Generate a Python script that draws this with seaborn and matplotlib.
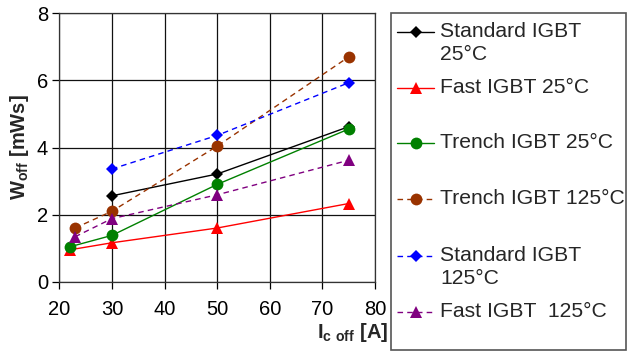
import matplotlib
matplotlib.use("Agg")
import matplotlib.pyplot as plt
import seaborn as sns
import pandas as pd
from matplotlib.lines import Line2D
from matplotlib.patches import Rectangle

# Turn-off energy vs. collector current for several IGBT types
std25_x = [30, 50, 75]
std25_y = [2.56, 3.21, 4.62]
fast25_x = [22, 30, 50, 75]
fast25_y = [0.95, 1.16, 1.60, 2.33]
trench25_x = [22, 30, 50, 75]
trench25_y = [1.04, 1.38, 2.90, 4.55]
trench125_x = [23, 30, 50, 75]
trench125_y = [1.60, 2.10, 4.04, 6.70]
std125_x = [30, 50, 75]
std125_y = [3.36, 4.36, 5.93]
fast125_x = [23, 30, 50, 75]
fast125_y = [1.34, 1.88, 2.59, 3.62]

labels = ["Standard IGBT\n25°C", "Fast IGBT 25°C", "Trench IGBT 25°C",
          "Trench IGBT 125°C", "Standard IGBT\n125°C", "Fast IGBT  125°C"]
xs = [std25_x, fast25_x, trench25_x, trench125_x, std125_x, fast125_x]
ys = [std25_y, fast25_y, trench25_y, trench125_y, std125_y, fast125_y]
colors = ["#000000", "#FF0000", "#008000", "#993300", "#0000FF", "#800080"]
markers = ["D", "^", "o", "o", "D", "^"]
msizes = [6, 9, 8.5, 8.5, 6, 9]
dashed = [False, False, False, True, True, True]

sns.set_theme(style="white")
plt.rcParams["font.family"] = ["Liberation Sans", "DejaVu Sans"]
plt.rcParams["mathtext.fontset"] = "custom"
plt.rcParams["mathtext.rm"] = "Liberation Sans"
plt.rcParams["mathtext.bf"] = "Liberation Sans:bold"

W, H = 627, 351
fig = plt.figure(figsize=(W / 100, H / 100), dpi=100)
fig.patch.set_facecolor("white")


def fx(px):
    return px / W


def fy(py):
    return 1 - py / H


ax = fig.add_axes([fx(59.3), fy(281.7), fx(375) - fx(59.3), fy(13.3) - fy(281.7)])

for lab, x, y, c, m, ms, d in zip(labels, xs, ys, colors, markers, msizes, dashed):
    df = pd.DataFrame({"x": x, "y": y})
    sns.lineplot(data=df, x="x", y="y", ax=ax, color=c, marker=m, markersize=ms,
                 markeredgewidth=0, linewidth=1.0,
                 linestyle=(0, (4, 3)) if d else "-", legend=False)

ax.set_xlim(20, 80)
ax.set_ylim(0, 8)
ax.set_xticks(range(20, 81, 10))
ax.set_yticks(range(0, 9, 2))
ax.grid(True, color="#111111", linewidth=0.9)
ax.set_axisbelow(True)
for s in ax.spines.values():
    s.set_color("#333333")
    s.set_linewidth(0.9)
ax.tick_params(axis="both", labelsize=14.5, colors="#000000", length=5,
               width=0.9, direction="out", pad=3, bottom=True, left=True)
ax.tick_params(axis="x", pad=8)
ax.set_xlabel("")
ax.set_ylabel(r"$\mathbf{W_{off}}$ [mWs]", fontsize=14.5, fontweight="bold", labelpad=4)
ax.text(fx(388), fy(338), r"$\mathbf{I_{c\ off}}$ [A]", transform=fig.transFigure,
        ha="right", va="baseline", fontsize=14.5, fontweight="bold")

# legend box on the right
fig.add_artist(Rectangle((fx(391), fy(350)), fx(626) - fx(391), fy(13) - fy(350),
                         transform=fig.transFigure, facecolor="white",
                         edgecolor="#555555", linewidth=1.2))
entry_y = [32, 88, 143, 199, 256, 312]
for lab, yy, c, m, ms, d in zip(labels, entry_y, colors, markers, msizes, dashed):
    fig.add_artist(Line2D([fx(397), fx(434)], [fy(yy), fy(yy)], transform=fig.transFigure,
                          color=c, linewidth=1.0,
                          linestyle=(0, (4, 3)) if d else "-"))
    fig.add_artist(Line2D([fx(416)], [fy(yy)], transform=fig.transFigure, color=c,
                          marker=m, markersize=ms, markeredgewidth=0, linestyle="none"))
    fig.text(fx(440), fy(yy - 10), lab, transform=fig.transFigure, ha="left", va="top",
             fontsize=15.2, linespacing=1.25)

fig.savefig("out.png", dpi=100, facecolor="white")
